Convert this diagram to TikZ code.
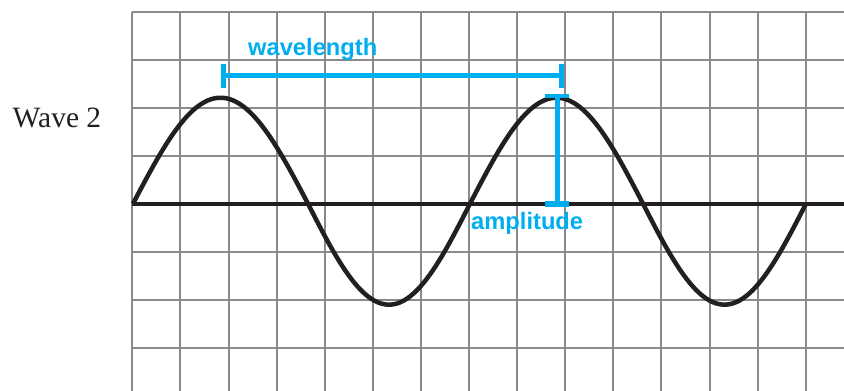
\documentclass[tikz,border=0pt]{standalone}
\usepackage{fontspec}
\setmainfont{Liberation Serif}
\newfontfamily\labelfont{Liberation Sans}
\definecolor{gridgray}{HTML}{8A8A8A}
\definecolor{waveblack}{HTML}{231F20}
\definecolor{procyan}{HTML}{00AEEF}
\begin{document}
\begin{tikzpicture}[x=1pt,y=-1pt,
  gridline/.style={draw=gridgray,line width=2pt},
  axisline/.style={draw=waveblack,line width=4.3pt},
  waveline/.style={draw=waveblack,line width=4.5pt,line join=round},
  cyanbar/.style={draw=procyan,line width=5pt},
  cyanlabel/.style={text=procyan,font=\labelfont\bfseries\fontsize{23.7}{26}\selectfont,inner sep=0pt,anchor=base west},
  titlelabel/.style={text=waveblack,font=\fontsize{29.5}{32}\selectfont,inner sep=0pt,anchor=base west}]
\useasboundingbox (0,0) rectangle (844,391);
% grid
\foreach \i in {0,...,14}
  \draw[gridline] (132.3+48.1*\i,11.7) -- (132.3+48.1*\i,391);
\foreach \j in {0,...,7}
  \draw[gridline] (132.3,11.7+48*\j) -- (844,11.7+48*\j);
% axis
\coordinate (axL) at (132.3,203.7);
\coordinate (axR) at (844,203.7);
\draw[axisline] (axL) -- (axR);
% wave
\draw[waveline]
  plot[domain=0:1,samples=50,smooth] ({133+175*\x},{203.7-106*sin(180*\x)})
  -- plot[domain=0:1,samples=50,smooth] ({308+162*\x},{203.7+101*sin(180*\x)})
  -- plot[domain=0:1,samples=50,smooth] ({470+173*\x},{203.7-106*sin(180*\x)})
  -- plot[domain=0:1,samples=50,smooth] ({643+163*\x},{203.7+101*sin(180*\x)});
% wavelength bar
\coordinate (wlL) at (223.3,75.5);
\coordinate (wlR) at (561.7,75.5);
\coordinate (wlLt) at (223.3,64);
\coordinate (wlLb) at (223.3,88.3);
\coordinate (wlRt) at (561.7,63.5);
\coordinate (wlRb) at (561.7,88.3);
\draw[cyanbar] (wlL) -- (wlR);
\draw[cyanbar,line width=4.6pt] (wlLt) -- (wlLb);
\draw[cyanbar,line width=4.6pt] (wlRt) -- (wlRb);
\node[cyanlabel] (wavelength) at (248,55) {wavelength};
% amplitude bar
\coordinate (amT) at (557.3,96);
\coordinate (amB) at (557.3,203.7);
\coordinate (amTL) at (545,96);
\coordinate (amTR) at (569,96);
\coordinate (amBL) at (545,203.8);
\coordinate (amBR) at (569,203.8);
\draw[cyanbar,line width=5.5pt] (amT) -- (amB);
\draw[cyanbar,line width=4.2pt] (amTL) -- (amTR);
\draw[cyanbar,line width=5.6pt] (amBL) -- (amBR);
\node[cyanlabel] (amplitude) at (471,229) {amplitude};
% title
\node[titlelabel] (wave2) at (12.5,127.5) {Wave 2};
\end{tikzpicture}
\end{document}
